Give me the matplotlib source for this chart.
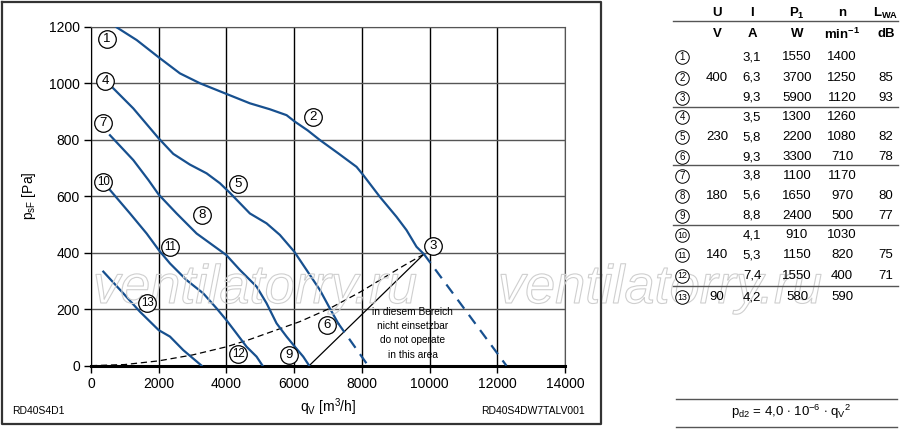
import numpy as np
import matplotlib
matplotlib.use('Agg')
import matplotlib.pyplot as plt
import matplotlib.patheffects as pe

plt.rcParams['font.family'] = ['Liberation Sans', 'DejaVu Sans']
plt.rcParams['mathtext.fontset'] = 'custom'
plt.rcParams['mathtext.rm'] = 'Liberation Sans'
plt.rcParams['mathtext.it'] = 'Liberation Sans'

BLUE = '#17508f'

# fan curves (qv in m3/h, psF in Pa)
c1_q = [761, 1351, 2000, 2628, 3218, 4006, 4693, 5280, 5776, 6021, 6400, 6758, 7300,
        7841, 8038, 8528, 9021, 9316, 9611, 9830]
c1_p = [1198, 1153, 1092, 1035, 1000, 962, 929, 908, 887, 864, 833, 799, 752,
        704, 675, 598, 527, 480, 421, 395]
c1_dash_q = [9830, 12265]
c1_dash_p = [395, 0]

c4_q = [661, 1251, 2000, 2431, 2923, 3416, 3808, 4103, 4693, 5185, 5578, 6001, 6365,
        6759, 7053, 7299]
c4_p = [982, 911, 805, 750, 712, 681, 646, 612, 539, 504, 463, 404, 339,
        268, 203, 150]
c4_dash_q = [7299, 8183]
c4_dash_p = [150, 0]

c7_q = [563, 1251, 1700, 2000, 2530, 3120, 3995, 4398, 4890, 5185, 5480, 5775, 6021,
        6267, 6444]
c7_p = [816, 728, 657, 606, 539, 468, 392, 339, 280, 221, 150, 103, 67,
        32, 0]

c10_q = [564, 1154, 1645, 2000, 2334, 2825, 3317, 3710, 3995, 4300, 4595, 4890, 5067]
c10_p = [622, 539, 468, 410, 362, 303, 256, 203, 162, 114, 67, 32, 0]

c13_q = [367, 957, 1448, 2000, 2334, 2727, 3268]
c13_p = [333, 256, 191, 126, 103, 55, 0]

# system curve pd2 (dashed) and operating limit
sys_q = [0, 1000, 2000, 3000, 4006, 4693, 6168, 7053, 7938, 9217, 9830]
sys_p = [0, 4, 17, 38, 67, 93, 156, 203, 260, 353, 395]
lim_q = [6444, 9830]
lim_p = [0, 395]

# circled point labels
lab_num = ['1', '2', '3', '4', '5', '6', '7', '8', '9', '10', '11', '12', '13']
lab_q = [466, 6560, 10097, 416, 4348, 6975, 366, 3268, 5854, 366, 2334, 4350, 1665]
lab_p = [1155, 881, 424, 1008, 645, 144, 858, 533, 38, 651, 421, 41, 221]

# table
tab_U = ['', '400', '', '', '230', '', '', '180', '', '', '140', '', '90']
tab_I = ['3,1', '6,3', '9,3', '3,5', '5,8', '9,3', '3,8', '5,6', '8,8', '4,1', '5,3', '7,4', '4,2']
tab_P1 = ['1550', '3700', '5900', '1300', '2200', '3300', '1100', '1650', '2400', '910', '1150', '1550', '580']
tab_n = ['1400', '1250', '1120', '1260', '1080', '710', '1170', '970', '500', '1030', '820', '400', '590']
tab_L = ['', '85', '93', '', '82', '78', '', '80', '77', '', '75', '71', '']

fig = plt.figure(figsize=(9, 4.29), dpi=100)
ax = fig.add_axes([0.101, 0.1476, 0.527, 0.790])

# overlay in pixel coordinates for frame, table, footers
ov = fig.add_axes([0, 0, 1, 1], facecolor='none')
ov.set_xlim(0, 900)
ov.set_ylim(429, 0)
ov.axis('off')

solid = [(c1_q, c1_p), (c4_q, c4_p), (c7_q, c7_p), (c10_q, c10_p), (c13_q, c13_p)]
for q, p in solid:
    ax.plot(q, p, color=BLUE, lw=1.6, zorder=3, solid_joinstyle='round')
for q, p in [(c1_dash_q, c1_dash_p), (c4_dash_q, c4_dash_p)]:
    ax.plot(q, p, color=BLUE, lw=1.6, ls=(0, (5, 3.5)), zorder=3)
ax.plot(sys_q, sys_p, color='black', lw=0.9, ls=(0, (5, 3)), zorder=2)
ax.plot(lim_q, lim_p, color='black', lw=0.9, zorder=2)

# watermark, drawn below the circled labels
for wx in [93, 498]:
    ax.text(wx, 289, 'ventilatorry.ru', fontsize=39, style='italic', color='none',
            va='center', ha='left', zorder=3.5, transform=ov.transData, clip_on=False,
            path_effects=[pe.withStroke(linewidth=0.8, foreground='#cfcfcf')])

ax.scatter(lab_q, lab_p, s=160, facecolor='white', edgecolor='black', lw=0.9, zorder=4)
for t, q, p in zip(lab_num, lab_q, lab_p):
    fs = 9.5 if len(t) == 1 else 8.3
    ax.text(q, p, t, ha='center', va='center', fontsize=fs, zorder=5)

ax.text(9504, 115, 'in diesem Bereich\nnicht einsetzbar\ndo not operate\nin this area',
        ha='center', va='center', fontsize=7.3, linespacing=1.55)

ax.set_xlim(0, 14000)
ax.set_ylim(0, 1200)
ax.set_xticks(np.arange(0, 14001, 2000))
ax.set_yticks(np.arange(0, 1201, 200))
ax.tick_params(labelsize=10, length=5, width=1, direction='out', pad=3)
ax.grid(axis='x', color='black', lw=1)
ax.grid(axis='y', color='#555555', lw=1)
for s in ['top', 'right']:
    ax.spines[s].set_color('#555555')
ax.spines['left'].set_color('black')
ax.spines['bottom'].set_linewidth(2.2)
ax.set_xlabel(r'q$_\mathregular{V}$ [m$^\mathregular{3}$/h]', fontsize=10, labelpad=4)
ax.set_ylabel(r'p$_\mathregular{sF}$ [Pa]', fontsize=10, labelpad=8)

ov.plot([2, 601, 601, 2, 2], [2, 2, 424, 424, 2], color='#333333', lw=1.6)
ov.text(12, 411, 'RD40S4D1', fontsize=7.5, va='center', ha='left')
ov.text(585, 411, 'RD40S4DW7TALV001', fontsize=7.5, va='center', ha='right')

col_x = [717, 752, 797, 842, 886]
heads = ['U', 'I', r'P$_\mathregular{1}$', 'n', r'L$_\mathregular{WA}$']
units = ['V', 'A', 'W', r'min$^\mathregular{-1}$', 'dB']
for x, h, u in zip(col_x, heads, units):
    ov.text(x, 13, h, fontsize=9.5, fontweight='bold', ha='center', va='center')
    ov.text(x, 34, u, fontsize=9.5, fontweight='bold', ha='center', va='center')

row_y = [57, 78, 98, 117, 137, 157, 176, 196, 216, 235, 255, 276, 297]
ov.scatter([682] * len(row_y), row_y, s=95, facecolor='white', edgecolor='black', lw=0.7, zorder=4)
for i, y in enumerate(row_y):
    ov.text(682, y, lab_num[i], fontsize=7 if i < 9 else 6.3, ha='center', va='center', zorder=5)
    for x, col in zip(col_x, [tab_U, tab_I, tab_P1, tab_n, tab_L]):
        ov.text(x, y, col[i], fontsize=9.5, ha='center', va='center')

for y in [21, 107, 165, 225, 286]:
    ov.plot([673, 898], [y, y], color='#555555', lw=1)
ov.plot([676, 897], [399, 399], color='#555555', lw=1)
ov.plot([676, 897], [427, 427], color='#555555', lw=1)
ov.text(791, 412, r'p$_\mathregular{d2}$ = 4,0 $\cdot$ 10$^\mathregular{-6}$ $\cdot$ q$_\mathregular{V}$$^\mathregular{2}$',
        fontsize=9.5, ha='center', va='center')

fig.savefig('out.png', dpi=100)
